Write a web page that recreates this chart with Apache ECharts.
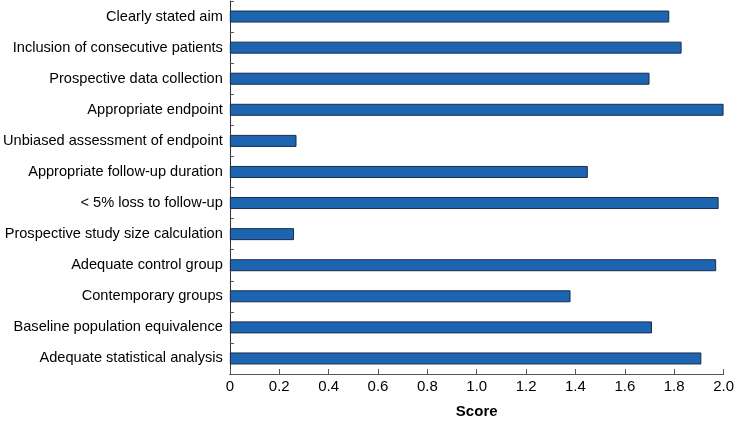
<!DOCTYPE html>
<html><head><meta charset="utf-8">
<script src="https://cdn.jsdelivr.net/npm/echarts@6/dist/echarts.min.js"></script>
<style>html,body{margin:0;padding:0;background:#fff}#c{width:737px;height:424px}</style>
</head><body><div id="c"></div>
<script>
const categories = [
  'Clearly stated aim',
  'Inclusion of consecutive patients',
  'Prospective data collection',
  'Appropriate endpoint',
  'Unbiased assessment of endpoint',
  'Appropriate follow-up duration',
  '< 5% loss to follow-up',
  'Prospective study size calculation',
  'Adequate control group',
  'Contemporary groups',
  'Baseline population equivalence',
  'Adequate statistical analysis'
];
const scores = [1.78, 1.83, 1.70, 2.00, 0.27, 1.45, 1.98, 0.26, 1.97, 1.38, 1.71, 1.91];
const xTicks = [0, 0.2, 0.4, 0.6, 0.8, 1.0, 1.2, 1.4, 1.6, 1.8, 2.0];

const chart = echarts.init(document.getElementById('c'), null, {renderer: 'canvas'});
const font = 'Liberation Sans, Arial, Helvetica, sans-serif';
chart.setOption({
  animation: false,
  grid: {left: 229, right: 9, top: 1, bottom: 43, containLabel: false},
  xAxis: {
    type: 'value', min: xTicks[0], max: xTicks[xTicks.length - 1], interval: 0.2,
    name: 'Score', nameLocation: 'middle', nameGap: 30,
    nameTextStyle: {fontFamily: font, fontSize: 15, fontWeight: 'bold', color: '#000'},
    axisLine: {show: true, lineStyle: {color: '#555', width: 1}},
    axisTick: {show: true, inside: true, length: 5, lineStyle: {color: '#555'}},
    axisLabel: {fontFamily: font, fontSize: 15, color: '#000', margin: 5,
      formatter: v => v === 0 ? '0' : v.toFixed(1)},
    splitLine: {show: false}
  },
  yAxis: {
    type: 'category', data: categories, inverse: true,
    axisLine: {show: true, lineStyle: {color: '#333', width: 1}},
    axisTick: {show: true, inside: true, length: 4, lineStyle: {color: '#555'}},
    axisLabel: {fontFamily: font, fontSize: 14.6, color: '#000', margin: 7},
    splitLine: {show: false}
  },
  series: [{
    type: 'bar', data: scores, barWidth: 12,
    itemStyle: {color: '#1d65b1', borderColor: '#1b2d4a', borderWidth: 1}
  }]
});
</script></body></html>
